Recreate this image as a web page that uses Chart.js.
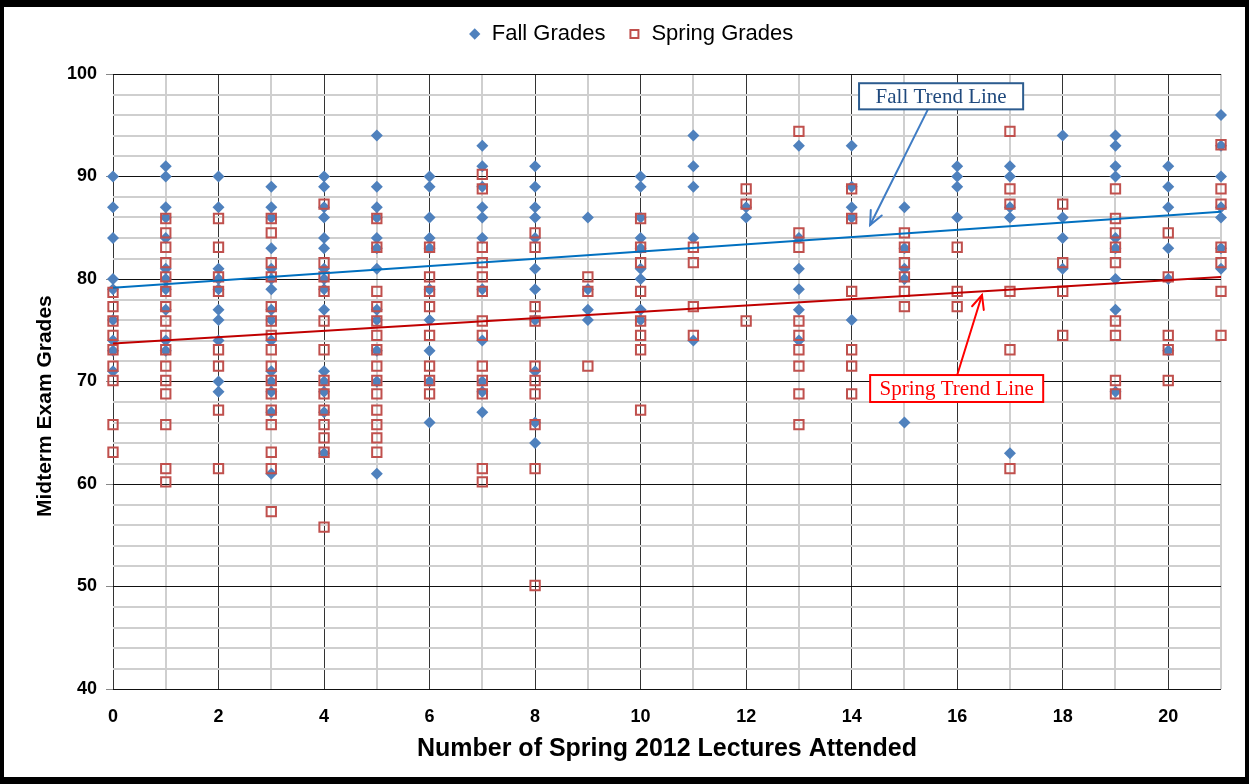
<!DOCTYPE html>
<html><head><meta charset="utf-8">
<script src="https://cdn.jsdelivr.net/npm/chart.js@4/dist/chart.umd.min.js"></script>
<style>html,body{margin:0;padding:0;background:#fff;overflow:hidden}</style>
</head><body>
<canvas id="c" width="1249" height="784"></canvas>
<script>
// ---- data ----
const lectures = [0,1,2,3,4,5,6,7,8,9,10,11,12,13,14,15,16,17,18,19,20,21];
const fallGrades = [
  [90,87,84,80,79,76,74,73,71],
  [91,90,87,86,84,81,80,79,77,74,73],
  [90,87,81,80,79,77,76,74,70,69],
  [89,87,86,83,81,80,79,77,76,74,71,70,69,67,61],
  [90,89,87,86,84,83,81,80,79,77,71,70,69,67,63],
  [94,89,87,86,84,83,81,77,76,73,70,61],
  [90,89,86,84,83,79,76,73,70,66],
  [93,91,89,87,86,84,79,74,70,69,67],
  [91,89,87,86,84,81,79,76,71,66,64],
  [86,79,77,76],
  [90,89,86,84,83,81,80,77,76],
  [94,91,89,84,74],
  [87,86],
  [93,84,81,79,77,74],
  [93,89,87,86,76],
  [87,83,81,80,66],
  [91,90,89,86],
  [91,90,87,86,63],
  [94,86,84,81],
  [94,93,91,90,84,83,80,77,69],
  [91,89,87,83,80,73],
  [96,93,90,87,86,83,81]
];
const springGrades = [
  [78.7,77.3,75.9,74.5,73.1,71.5,70.1,65.8,63.1],
  [85.9,84.5,83.1,81.6,80.2,78.8,77.3,75.9,74.5,73.1,71.5,70.1,68.8,65.8,61.5,60.2],
  [85.9,83.1,80.2,78.8,73.1,71.5,67.2,61.5],
  [85.9,84.5,81.6,80.2,77.3,75.9,74.5,73.1,71.5,70.1,68.8,67.2,65.8,63.1,61.5,57.3],
  [87.3,81.6,80.2,78.8,75.9,73.1,70.1,68.8,67.2,65.8,64.5,63.1,55.8],
  [85.9,83.1,78.8,77.3,75.9,74.5,73.1,71.5,70.1,68.8,67.2,65.8,64.5,63.1],
  [83.1,80.2,78.8,77.3,74.5,71.5,70.1,68.8],
  [90.2,88.8,83.1,81.6,80.2,78.8,75.9,74.5,71.5,70.1,68.8,61.5,60.2],
  [84.5,83.1,77.3,75.9,71.5,70.1,68.8,65.8,61.5,50.1],
  [80.2,78.8,71.5],
  [85.9,83.1,81.6,78.8,75.9,74.5,73.1,67.2],
  [83.1,81.6,77.3,74.5],
  [88.8,87.3,75.9],
  [94.4,84.5,83.1,75.9,74.5,73.1,71.5,68.8,65.8],
  [88.8,85.9,78.8,73.1,71.5,68.8],
  [84.5,83.1,81.6,80.2,78.8,77.3],
  [83.1,78.8,77.3],
  [94.4,88.8,87.3,78.8,73.1,61.5],
  [87.3,81.6,78.8,74.5],
  [88.8,85.9,84.5,83.1,81.6,75.9,74.5,70.1,68.8],
  [84.5,80.2,74.5,73.1,70.1],
  [93.1,88.8,87.3,83.1,81.6,78.8,74.5]
];
const trendX = [0, 21];
const fallTrendY = [79.15, 86.57];
const springTrendY = [73.7, 80.2];
const xTickLabels = [0,2,4,6,8,10,12,14,16,18,20];
const yTickLabels = [40,50,60,70,80,90,100];
const seriesNames = ['Fall Grades','Spring Grades','Fall Trend Line','Spring Trend Line'];
const yTitleText = 'Midterm Exam Grades';
const xTitleText = 'Number of Spring 2012 Lectures Attended';

// ---- build library data ----
function toPoints(groups){ const pts=[]; lectures.forEach((x,i)=>groups[i].forEach(v=>pts.push({x:x,y:v}))); return pts; }
function toLine(ys){ return trendX.map((x,i)=>({x:x,y:ys[i]})); }

const annotations = [
  {text:seriesNames[2], box:[14.14,99.1,17.25,96.55], from:[15.45,96.6], to:[14.35,85.27], textColor:'#1F497D', boxColor:'#2C5C8F', arrowColor:'#3F7CC4'},
  {text:seriesNames[3], box:[14.35,70.63,17.63,68.0], from:[16.0,70.63], to:[16.47,78.44], textColor:'#FF0000', boxColor:'#FF0000', arrowColor:'#FF0000'}
];

const frame = {
  id:'frame',
  beforeDraw(chart){ const c=chart.ctx; c.save(); c.fillStyle='#fff'; c.fillRect(0,0,chart.width,chart.height); c.restore(); },
  afterDraw(chart){
    const c=chart.ctx, w=chart.width, h=chart.height; c.save(); c.fillStyle='#000';
    c.fillRect(0,0,w,7); c.fillRect(0,h-7,w,7); c.fillRect(0,0,4,h); c.fillRect(w-4,0,4,h); c.restore();
  }
};
const yTitle = {
  id:'yTitle',
  afterDraw(chart){
    const c=chart.ctx, sy=chart.scales.y;
    c.save();
    c.translate(45, sy.getPixelForValue(67.6));
    c.rotate(-Math.PI/2);
    c.font="bold 21px 'Liberation Sans', Arial, sans-serif"; c.fillStyle='#000';
    c.textAlign='center'; c.textBaseline='middle';
    c.fillText(yTitleText, 0, 0);
    c.restore();
  }
};
const notes = {
  id:'notes',
  afterDatasetsDraw(chart){
    const c=chart.ctx, sx=chart.scales.x, sy=chart.scales.y;
    const px=v=>sx.getPixelForValue(v), py=v=>sy.getPixelForValue(v);
    annotations.forEach(a=>{
      c.save();
      const x1=px(a.from[0]), y1=py(a.from[1]), x2=px(a.to[0]), y2=py(a.to[1]);
      c.strokeStyle=a.arrowColor; c.lineWidth=2; c.lineCap='round';
      c.beginPath(); c.moveTo(x1,y1); c.lineTo(x2,y2); c.stroke();
      const ang=Math.atan2(y2-y1,x2-x1), L=15, sp=0.42;
      c.beginPath();
      c.moveTo(x2-L*Math.cos(ang-sp), y2-L*Math.sin(ang-sp)); c.lineTo(x2,y2);
      c.lineTo(x2-L*Math.cos(ang+sp), y2-L*Math.sin(ang+sp)); c.stroke();
      const bx=px(a.box[0]), by=py(a.box[1]), bw=px(a.box[2])-bx, bh=py(a.box[3])-by;
      c.fillStyle='#fff'; c.fillRect(bx,by,bw,bh);
      c.strokeStyle=a.boxColor; c.lineWidth=2; c.strokeRect(bx,by,bw,bh);
      c.fillStyle=a.textColor; c.font="21px 'Liberation Serif', 'Times New Roman', serif";
      c.textAlign='center'; c.textBaseline='middle';
      c.fillText(a.text, bx+bw/2, by+bh/2+1);
      c.restore();
    });
  }
};

Chart.defaults.font.family = "'Liberation Sans', Arial, sans-serif";
Chart.defaults.color = '#000';

new Chart(document.getElementById('c'), {
  type:'scatter',
  data:{ datasets:[
    {label:seriesNames[0], data:toPoints(fallGrades), xAxisID:'x', yAxisID:'y', pointStyle:'rectRot', pointRadius:6, pointBorderWidth:0, backgroundColor:'#4F81BD', borderColor:'#4F81BD', order:2, clip:false},
    {label:seriesNames[1], data:toPoints(springGrades), xAxisID:'x', yAxisID:'y', pointStyle:'rect', pointRadius:6.6, pointBorderWidth:2, backgroundColor:'rgba(0,0,0,0)', borderColor:'#C0504D', order:1, clip:false},
    {label:seriesNames[2], type:'line', data:toLine(fallTrendY), xAxisID:'x', yAxisID:'y', showLine:true, pointRadius:0, borderColor:'#0070C0', borderWidth:2, fill:false, order:0},
    {label:seriesNames[3], type:'line', data:toLine(springTrendY), xAxisID:'x', yAxisID:'y', showLine:true, pointRadius:0, borderColor:'#C00000', borderWidth:2, fill:false, order:0}
  ]},
  options:{
    responsive:false, animation:false, events:[], devicePixelRatio:1,
    layout:{padding:{left:41, right:28, top:0, bottom:7}},
    plugins:{
      tooltip:{enabled:false},
      legend:{ position:'top',
        labels:{ usePointStyle:true, boxWidth:12, boxHeight:8, padding:23, font:{size:22},
          filter:item=>item.datasetIndex<2,
          sort:(a,b)=>a.datasetIndex-b.datasetIndex }
      }
    },
    scales:{
      x:{ type:'linear', min:0, max:21,
        afterFit:s=>{ s.height = 784-7-689; },
        afterBuildTicks:s=>{ s.ticks = lectures.map(v=>({value:v})); },
        ticks:{ autoSkip:false, maxRotation:0, padding:17, font:{size:18, weight:'bold'},
          callback:v=> xTickLabels.includes(v) ? String(v) : '' },
        grid:{ drawTicks:false,
          color:ctx=> (ctx.tick && ctx.tick.value%2===0) ? '#333' : '#cfcfcf',
          lineWidth:ctx=> (ctx.tick && ctx.tick.value%2===0) ? 1 : 2 },
        border:{display:false},
        title:{ display:true, text:xTitleText, font:{size:25, weight:'bold'}, padding:{top:0,bottom:13} }
      },
      y:{ type:'linear', min:40, max:100,
        afterFit:s=>{ s.width = 113-41; },
        afterBuildTicks:s=>{ const t=[]; for(let v=40; v<=100; v+=2) t.push({value:v}); s.ticks=t; },
        ticks:{ autoSkip:false, padding:9, font:{size:18, weight:'bold'},
          callback:v=> yTickLabels.includes(v) ? String(v) : '' },
        grid:{ drawTicks:true, tickLength:7,
          color:ctx=> (ctx.tick && ctx.tick.value%10===0) ? '#111' : '#cfcfcf',
          tickColor:ctx=> (ctx.tick && ctx.tick.value%10===0) ? '#888' : 'rgba(0,0,0,0)',
          lineWidth:ctx=> (ctx.tick && ctx.tick.value%10===0) ? 1 : 2 },
        border:{display:false},
        title:{ display:false }
      },
      gap:{ type:'linear', position:'top', display:true, min:0, max:1,
        afterFit:s=>{ s.height = 74-55; },
        ticks:{display:false}, grid:{display:false, drawTicks:false}, border:{display:false} }
    }
  },
  plugins:[frame, notes, yTitle]
});
</script>
</body></html>
